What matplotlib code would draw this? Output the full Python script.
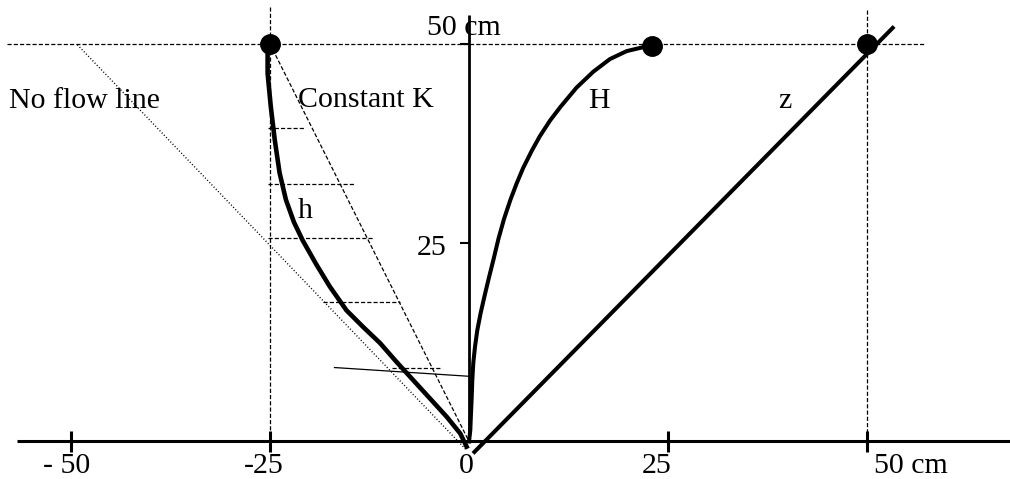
import matplotlib.pyplot as plt

plt.rcParams['font.family'] = ['Liberation Serif', 'DejaVu Serif']
plt.rcParams['lines.scale_dashes'] = False

# pressure head h, traced down from the top (cm)
h_x = [-25.3, -25.3, -24.9, -24.4, -23.8, -23.0, -22.0, -20.9, -19.2,
       -17.5, -15.4, -13.3, -11.2, -9.1, -7.0, -4.9, -2.8, -1.1, -0.3]
h_y = [49.6, 46.3, 42.1, 37.9, 33.8, 30.4, 27.6, 25.3, 22.3,
       19.5, 16.5, 14.4, 12.4, 10.0, 7.7, 5.4, 3.1, 1.0, -0.65]

# hydraulic head H
H_x = [0.0, 0.16, 0.25, 0.34, 0.41, 0.54, 0.75, 1.04, 1.47, 1.95, 2.5,
       3.1, 3.7, 4.4, 5.2, 6.0, 6.8, 7.9, 8.9, 10.2, 11.5, 13.5, 15.6,
       17.7, 19.8, 21.9, 23.0]
H_y = [0.0, 1.4, 3.6, 5.6, 7.7, 9.9, 11.9, 14.0, 16.2, 18.3, 20.6,
       23.0, 25.5, 28.0, 30.4, 32.5, 34.4, 36.6, 38.4, 40.4, 42.1, 44.5, 46.5,
       48.1, 49.1, 49.6, 49.8]

# elevation head z
z_x = [0.5, 53.4]
z_y = [-1.5, 52.2]

# straight reference lines
constK_x = [-25.0, 0.0]
constK_y = [50.0, 0.0]
noflow_x = [-49.2, -0.3]
noflow_y = [49.9, -1.1]

# head increments between h and the constant-K line
step_y = [39.4, 32.4, 25.6, 17.5, 9.2]
step_x0 = [-25.3, -25.3, -25.3, -18.4, -9.7]
step_x1 = [-20.7, -14.4, -12.1, -8.7, -3.4]

# thin tangent line near the bottom
tan_x = [-16.9, 0.0]
tan_y = [9.3, 8.2]

# end points
dot_x = [-25.0, 23.0, 50.0]
dot_y = [50.0, 49.7, 50.0]

xtick_vals = [-50, -25, 25, 50]
xtick_text = ['- 50', '-25', '0', '25', '50 cm']
xtick_text_x = [-50.6, -25.8, -0.4, 23.6, 50.9]
ytick_vals = [25, 50]

fig = plt.figure(figsize=(10.1, 4.79), dpi=100)
ax = fig.add_axes([0, 0, 1, 1])
ax.set_xlim(-58.92, 67.96)
ax.set_ylim(-4.72, 55.53)
ax.axis('off')

dash = (0, (3, 1.5))
dot = (0, (0.75, 1.5))

# guide lines
ax.plot([-58.1, 57.1], [50, 50], color='black', lw=0.9, ls=dash)
ax.plot([-25, -25], [54.7, 0], color='black', lw=0.9, ls=dash)
ax.plot([50, 50], [54.3, 0], color='black', lw=0.9, ls=dash)
ax.plot(constK_x, constK_y, color='black', lw=0.9, ls=dash)
ax.plot(noflow_x, noflow_y, color='black', lw=1.0, ls=dot)
for y, x0, x1 in zip(step_y, step_x0, step_x1):
    ax.plot([x0, x1], [y, y], color='black', lw=0.9, ls=dash)
ax.plot(tan_x, tan_y, color='black', lw=0.9)

# axes
ax.plot([-56.8, 68.2], [0, 0], color='black', lw=2.2, solid_capstyle='butt')
ax.plot([0, 0], [0, 53.6], color='black', lw=2.0, solid_capstyle='butt')
for v in xtick_vals:
    ax.plot([v, v], [-1.3, 1.3], color='black', lw=2.2, solid_capstyle='butt')
for v in ytick_vals:
    ax.plot([-1.13, 0], [v, v], color='black', lw=1.5, solid_capstyle='butt')

# curves
ax.plot(h_x, h_y, color='black', lw=3.3, solid_joinstyle='round')
ax.plot(H_x, H_y, color='black', lw=2.9, solid_joinstyle='round')
ax.plot(z_x, z_y, color='black', lw=2.9, solid_capstyle='butt')
ax.plot(dot_x, dot_y, 'o', color='black', ms=14)

fs = 21.5
for s, x in zip(xtick_text, xtick_text_x):
    ha = 'left' if s.endswith('cm') else 'center'
    ax.text(x, -3.95, s, ha=ha, va='baseline', fontsize=fs)
ax.text(-2.8, 23.4, '25', ha='right', va='baseline', fontsize=fs)
ax.text(-5.3, 51.1, '50 cm', ha='left', va='baseline', fontsize=fs)

ax.text(-57.8, 41.9, 'No flow line', ha='left', va='baseline', fontsize=fs)
ax.text(-21.5, 42.1, 'Constant K', ha='left', va='baseline', fontsize=fs)
ax.text(-21.5, 28.1, 'h', ha='left', va='baseline', fontsize=fs)
ax.text(14.9, 41.9, 'H', ha='left', va='baseline', fontsize=fs)
ax.text(38.9, 41.9, 'z', ha='left', va='baseline', fontsize=fs)

fig.savefig('out.png', dpi=100)
